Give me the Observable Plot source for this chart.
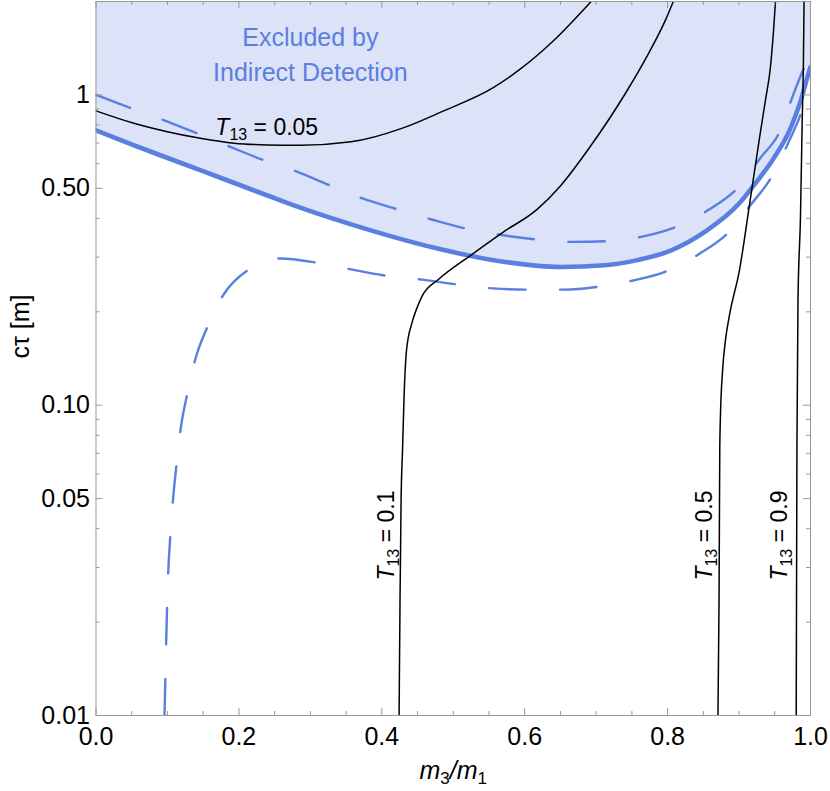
<!DOCTYPE html>
<html>
<head>
<meta charset="utf-8">
<script src="https://cdn.jsdelivr.net/npm/d3@7"></script>
<script src="https://cdn.jsdelivr.net/npm/@observablehq/plot@0.6"></script>
<style>
  html, body { margin: 0; padding: 0; background: #ffffff; }
  #chart svg { display: block; }
</style>
</head>
<body>
<div id="chart"></div>
<script>
// ---------- Data ----------
// Exclusion boundary (thick solid blue); region above is excluded
const exclX = [0, 0.048, 0.090, 0.146, 0.188, 0.240, 0.286, 0.381, 0.475, 0.570, 0.650, 0.712, 0.759, 0.806, 0.853, 0.901, 0.920, 0.948, 0.972, 0.986, 0.9955, 1.0];
const exclY = [0.768, 0.695, 0.639, 0.572, 0.526, 0.474, 0.433, 0.368, 0.321, 0.290, 0.279, 0.2825, 0.294, 0.316, 0.363, 0.449, 0.509, 0.622, 0.780, 0.953, 1.137, 1.23];

// Upper dashed blue curve
const upperDashX = [0, 0.048, 0.0945, 0.1365, 0.188, 0.234, 0.282, 0.329, 0.374, 0.423, 0.471, 0.520, 0.570, 0.617, 0.667, 0.716, 0.766, 0.811, 0.858, 0.8985, 0.929, 0.958, 0.976, 0.9955, 0.9985];
const upperDashY = [1.0, 0.908, 0.830, 0.760, 0.680, 0.617, 0.565, 0.509, 0.463, 0.427, 0.396, 0.370, 0.353, 0.342, 0.336, 0.338, 0.350, 0.375, 0.427, 0.503, 0.623, 0.771, 1.003, 1.273, 1.30];

// Lower dashed blue curve
const lowerDashX = [0.0959, 0.101, 0.104, 0.1075, 0.1127, 0.118, 0.1276, 0.139, 0.1565, 0.178, 0.214, 0.258, 0.3096, 0.357, 0.408, 0.4565, 0.507, 0.555, 0.605, 0.655, 0.705, 0.752, 0.8015, 0.844, 0.8866, 0.915, 0.948, 0.9695, 0.986, 0.9944];
const lowerDashY = [0.01, 0.0287, 0.0378, 0.0488, 0.0644, 0.0824, 0.1085, 0.1407, 0.180, 0.2264, 0.274, 0.297, 0.2877, 0.274, 0.261, 0.2539, 0.2447, 0.238, 0.2357, 0.2357, 0.2413, 0.2523, 0.272, 0.307, 0.363, 0.4385, 0.556, 0.706, 0.863, 0.985];

// Black contours of T13
const t005X = [0, 0.053, 0.0997, 0.146, 0.193, 0.2396, 0.286, 0.357, 0.428, 0.485, 0.556, 0.5936, 0.641, 0.693];
const t005Y = [0.888, 0.810, 0.761, 0.725, 0.699, 0.690, 0.688, 0.706, 0.780, 0.885, 1.055, 1.210, 1.50, 2.0];

const t01X = [0.4242, 0.4255, 0.427, 0.429, 0.431, 0.4346, 0.4423, 0.4486, 0.4564, 0.480, 0.524, 0.570, 0.617, 0.650, 0.693, 0.740, 0.773, 0.797, 0.808];
const t01Y = [0.01, 0.0235, 0.0494, 0.0716, 0.1038, 0.1504, 0.1845, 0.204, 0.2247, 0.255, 0.3036, 0.3614, 0.427, 0.509, 0.688, 1.003, 1.356, 1.742, 2.0];

const t05X = [0.8705, 0.872, 0.873, 0.8738, 0.877, 0.881, 0.8866, 0.9006, 0.915, 0.9293, 0.937, 0.944, 0.948, 0.951];
const t05Y = [0.01, 0.0235, 0.0716, 0.0895, 0.1297, 0.162, 0.195, 0.2726, 0.449, 0.743, 0.963, 1.234, 1.581, 2.0];

const t09X = [0.98, 0.981, 0.9825, 0.986, 0.9884, 0.990, 0.991];
const t09Y = [0.01, 0.0716, 0.218, 0.407, 0.830, 1.234, 2.0];

// Ticks
const xMajor = [0, 0.2, 0.4, 0.6, 0.8, 1.0];
const xTickLabels = ["0.0", "0.2", "0.4", "0.6", "0.8", "1.0"];
const xMinor = [0.05, 0.1, 0.15, 0.25, 0.3, 0.35, 0.45, 0.5, 0.55, 0.65, 0.7, 0.75, 0.85, 0.9, 0.95];
const yMajor = [0.01, 0.05, 0.1, 0.5, 1];
const yTickLabels = ["0.01", "0.05", "0.10", "0.50", "1"];
const yMinor = [0.02, 0.03, 0.04, 0.06, 0.07, 0.08, 0.09, 0.2, 0.3, 0.4, 0.6, 0.7, 0.8, 0.9];

// Annotations (anchored in data coordinates)
const regionLabels = [
  {text: "Excluded by", x: 0.300, y: 1.44},
  {text: "Indirect Detection", x: 0.300, y: 1.11}
];
const flatLabels = [{text: "T13 = 0.05", x: 0.167, y: 0.743}];
const rotatedLabels = [
  {text: "T13 = 0.1", x: 0.417, y: 0.038},
  {text: "T13 = 0.5", x: 0.862, y: 0.038},
  {text: "T13 = 0.9", x: 0.9674, y: 0.038}
];

// ---------- Helpers ----------
const zip = (xs, ys) => xs.map((x, i) => ({x, y: ys[i]}));
const excl = zip(exclX, exclY);
const upperDash = zip(upperDashX, upperDashY);
const lowerDash = zip(lowerDashX, lowerDashY);
const t005 = zip(t005X, t005Y);
const t01 = zip(t01X, t01Y);
const t05 = zip(t05X, t05Y);
const t09 = zip(t09X, t09Y);

const W = 830, H = 791;
const mL = 95.5, mR = 20, mT = 1, mB = 76;
const plotW = W - mL - mR, plotH = H - mT - mB;

const BLUE = "#5a7fe0";
const FILL = "#dce3f8";
const FRAME = "#999999";
const FONT = "'Liberation Sans', Arial, Helvetica, sans-serif";
const majorLen = 7, minorLen = 4;

const chart = Plot.plot({
  width: W,
  height: H,
  marginLeft: mL,
  marginRight: mR,
  marginTop: mT,
  marginBottom: mB,
  style: {fontFamily: FONT, background: "#ffffff", color: "#000"},
  x: {domain: [0, 1]},
  y: {type: "log", domain: [0.01, 2]},
  marks: [
    // excluded region
    Plot.areaY(excl, {x: "x", y1: "y", y2: () => 2, fill: FILL, curve: "monotone-x"}),
    // blue curves
    Plot.line(upperDash, {x: "x", y: "y", stroke: BLUE, strokeWidth: 2.4, strokeDasharray: "36.5,34.5", curve: "monotone-x", clip: true}),
    Plot.line(lowerDash, {x: "x", y: "y", stroke: BLUE, strokeWidth: 2.4, strokeDasharray: "36.5,34.5", curve: "monotone-x", clip: true}),
    Plot.line(excl, {x: "x", y: "y", stroke: BLUE, strokeWidth: 4.6, curve: "monotone-x", clip: true}),
    // black contours
    Plot.line(t005, {x: "x", y: "y", stroke: "#000", strokeWidth: 1.5, curve: "monotone-x", clip: true}),
    Plot.line(t01, {x: "x", y: "y", stroke: "#000", strokeWidth: 1.5, curve: "monotone-x", clip: true}),
    Plot.line(t05, {x: "x", y: "y", stroke: "#000", strokeWidth: 1.5, curve: "monotone-x", clip: true}),
    Plot.line(t09, {x: "x", y: "y", stroke: "#000", strokeWidth: 1.5, curve: "monotone-x", clip: true}),
    // frame
    Plot.frame({stroke: FRAME, strokeWidth: 1}),
    // inward ticks: bottom / top
    Plot.ruleX(xMajor, {insetTop: plotH - majorLen, stroke: FRAME}),
    Plot.ruleX(xMinor, {insetTop: plotH - minorLen, stroke: FRAME}),
    Plot.ruleX(xMajor, {insetBottom: plotH - majorLen, stroke: FRAME}),
    Plot.ruleX(xMinor, {insetBottom: plotH - minorLen, stroke: FRAME}),
    // inward ticks: left / right
    Plot.ruleY(yMajor, {insetRight: plotW - majorLen, stroke: FRAME}),
    Plot.ruleY(yMinor, {insetRight: plotW - minorLen, stroke: FRAME}),
    Plot.ruleY(yMajor, {insetLeft: plotW - majorLen, stroke: FRAME}),
    Plot.ruleY(yMinor, {insetLeft: plotW - minorLen, stroke: FRAME}),
    // tick labels
    Plot.axisX({ticks: xMajor, tickSize: 0, tickPadding: 12, fontSize: 25, fill: "#000",
      tickFormat: d => xTickLabels[xMajor.indexOf(d)], label: null}),
    Plot.axisY({ticks: yMajor, tickSize: 0, tickPadding: 6, fontSize: 25, fill: "#000",
      tickFormat: d => yTickLabels[yMajor.indexOf(d)], label: null}),
    // axis titles
    Plot.text(["m3/m1"], {frameAnchor: "bottom", dy: 63, lineAnchor: "bottom", fontSize: 25, fill: "#000"}),
    Plot.text(["cτ [m]"], {frameAnchor: "left", dx: -75, rotate: -90, lineAnchor: "middle", fontSize: 25, fill: "#000"}),
    // annotations
    Plot.text(regionLabels, {x: "x", y: "y", text: "text", textAnchor: "middle", lineAnchor: "bottom", fontSize: 25, fill: BLUE}),
    Plot.text(flatLabels, {x: "x", y: "y", text: "text", textAnchor: "start", lineAnchor: "bottom", fontSize: 23, fill: "#000"}),
    Plot.text(rotatedLabels, {x: "x", y: "y", text: "text", rotate: -90, textAnchor: "middle", lineAnchor: "bottom", fontSize: 23, fill: "#000"})
  ]
});

// ---------- Rich text (italics and subscripts) ----------
const NS = "http://www.w3.org/2000/svg";
function span(parent, str, attrs) {
  const t = document.createElementNS(NS, "tspan");
  t.textContent = str;
  for (const k in attrs) t.setAttribute(k, attrs[k]);
  parent.appendChild(t);
}
chart.querySelectorAll("text").forEach(t => {
  const s = t.textContent;
  const m = s.match(/^T13 = (.+)$/);
  if (m) {
    t.textContent = "";
    span(t, "T", {"font-style": "italic"});
    span(t, "13", {"font-size": "16", "dy": "5"});
    span(t, "\u00a0= " + m[1], {"dy": "-5"});
  } else if (s === "m3/m1") {
    t.textContent = "";
    span(t, "m", {"font-style": "italic"});
    span(t, "3", {"font-size": "17", "dy": "5"});
    span(t, "/", {"dy": "-5", "font-style": "italic"});
    span(t, "m", {"font-style": "italic"});
    span(t, "1", {"font-size": "17", "dy": "5"});
  }
});

document.getElementById("chart").appendChild(chart);
</script>
</body>
</html>
